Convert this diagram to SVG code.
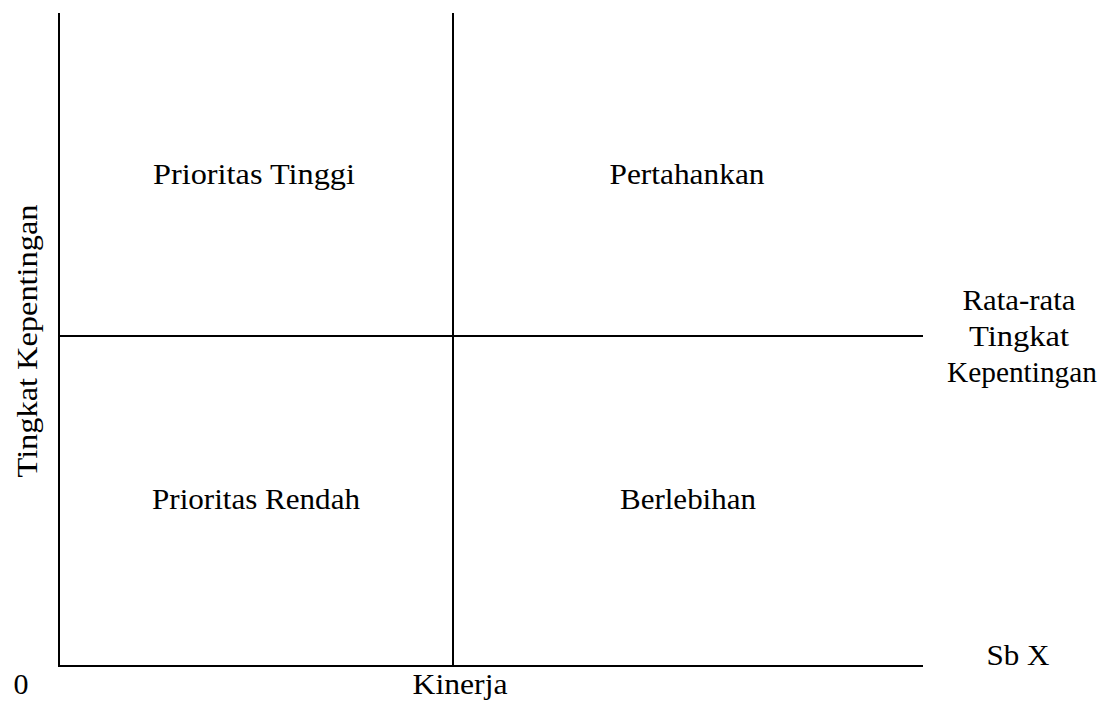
<svg xmlns="http://www.w3.org/2000/svg" width="1103" height="706" viewBox="0 0 1103 706">
<style>
.ln{stroke:#000;stroke-width:2;fill:none}
.t{font-family:"Liberation Serif","Times New Roman",serif;font-size:30px;fill:#000;text-anchor:middle}
</style>
<rect width="1103" height="706" fill="#fff"/>
<g id="connectors">
<line class="ln" x1="59" y1="13" x2="59" y2="667"/>
<line class="ln" x1="58" y1="666" x2="923" y2="666"/>
<line class="ln" x1="453" y1="13" x2="453" y2="666"/>
<line class="ln" x1="59" y1="336" x2="923" y2="336"/>
</g>
<g id="q1"><text class="t" x="254" y="184" textLength="202" lengthAdjust="spacingAndGlyphs">Prioritas Tinggi</text></g>
<g id="q2"><text class="t" x="687" y="184" textLength="155" lengthAdjust="spacingAndGlyphs">Pertahankan</text></g>
<g id="q3"><text class="t" x="256" y="509" textLength="208" lengthAdjust="spacingAndGlyphs">Prioritas Rendah</text></g>
<g id="q4"><text class="t" x="688" y="509" textLength="136" lengthAdjust="spacingAndGlyphs">Berlebihan</text></g>
<g id="avg"><text class="t" x="1019" y="310" textLength="113" lengthAdjust="spacingAndGlyphs">Rata-rata</text><text class="t" x="1019" y="346" textLength="100" lengthAdjust="spacingAndGlyphs">Tingkat</text><text class="t" x="1022" y="382" textLength="150" lengthAdjust="spacingAndGlyphs">Kepentingan</text></g>
<g id="sbx"><text class="t" x="1018" y="665" textLength="63" lengthAdjust="spacingAndGlyphs">Sb X</text></g>
<g id="zero"><text class="t" x="21" y="694">0</text></g>
<g id="xlabel"><text class="t" x="460" y="694" textLength="95" lengthAdjust="spacingAndGlyphs">Kinerja</text></g>
<g id="ylabel"><text class="t" transform="translate(37,341) rotate(-90)" textLength="273" lengthAdjust="spacingAndGlyphs">Tingkat Kepentingan</text></g>
</svg>
